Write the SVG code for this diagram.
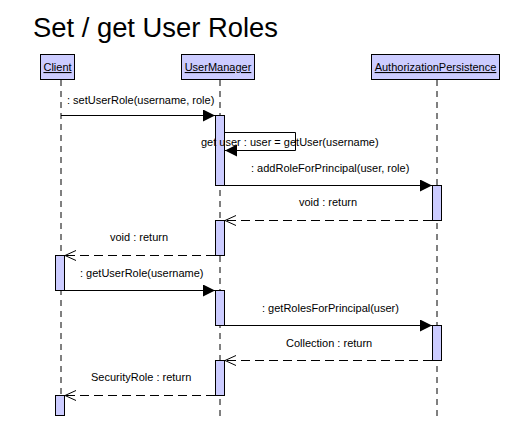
<svg xmlns="http://www.w3.org/2000/svg" width="514" height="426" viewBox="0 0 514 426">
<style>
text{font-family:"Liberation Sans",Arial,sans-serif;font-size:11px;fill:#000}
.title{font-size:27px}
.hdr{fill:#ccccff;stroke:#000;stroke-width:1}
.act{fill:#ccccff;stroke:#000;stroke-width:1}
.life{stroke:#000;stroke-width:1;stroke-dasharray:6,5;fill:none}
.msg{stroke:#000;stroke-width:1;fill:none}
.ret{stroke:#000;stroke-width:1;stroke-dasharray:9,5;fill:none}
.u{text-decoration:underline}
</style>
<defs>
<marker id="fill" markerWidth="12" markerHeight="12" refX="12" refY="6" orient="auto" markerUnits="userSpaceOnUse">
<path d="M0,0 L12,6 L0,12 Z" fill="#000"/>
</marker>
<marker id="open" markerWidth="12" markerHeight="12" refX="11" refY="6" orient="auto" markerUnits="userSpaceOnUse">
<path d="M0,1 L11,6 L0,11" fill="none" stroke="#000" stroke-width="1"/>
</marker>
</defs>
<rect width="514" height="426" fill="#fff"/>
<text class="title" x="33" y="37" textLength="245" lengthAdjust="spacingAndGlyphs">Set / get User Roles</text>

<g id="client">
<rect class="hdr" x="40.5" y="54.5" width="34" height="25"/>
<text class="u" x="57.5" y="71" text-anchor="middle">Client</text>
<line class="life" x1="61" y1="80" x2="61" y2="395"/>
<rect class="act" x="55.5" y="255.5" width="9" height="35"/>
<rect class="act" x="55.5" y="395.5" width="9" height="20"/>
</g>

<g id="usermanager">
<rect class="hdr" x="181.5" y="54.5" width="73" height="25"/>
<text class="u" x="218" y="71" text-anchor="middle">UserManager</text>
<line class="life" x1="220" y1="80" x2="220" y2="416"/>
<rect class="act" x="215.5" y="115.5" width="9" height="70"/>
<rect class="act" x="215.5" y="220.5" width="9" height="35"/>
<rect class="act" x="215.5" y="290.5" width="9" height="35"/>
<rect class="act" x="215.5" y="360.5" width="9" height="35"/>
</g>

<g id="authpersistence">
<rect class="hdr" x="371.5" y="54.5" width="128" height="25"/>
<text class="u" x="435.5" y="71" text-anchor="middle">AuthorizationPersistence</text>
<line class="life" x1="437" y1="80" x2="437" y2="416"/>
<rect class="act" x="432.5" y="185.5" width="9" height="35"/>
<rect class="act" x="432.5" y="325.5" width="9" height="35"/>
</g>

<g id="connectors">
<line class="msg" x1="61" y1="115.5" x2="215" y2="115.5" marker-end="url(#fill)"/>
<text x="67" y="104">: setUserRole(username, role)</text>

<polyline class="msg" points="225,132.5 295.5,132.5 295.5,150.5 225,150.5" marker-end="url(#fill)"/>
<text x="201" y="146">get user : user = getUser(username)</text>

<line class="msg" x1="225" y1="185.5" x2="432" y2="185.5" marker-end="url(#fill)"/>
<text x="251" y="172">: addRoleForPrincipal(user, role)</text>

<line class="ret" x1="432" y1="220.5" x2="225" y2="220.5" marker-end="url(#open)"/>
<text x="328" y="206" text-anchor="middle">void : return</text>

<line class="ret" x1="215" y1="255.5" x2="65" y2="255.5" marker-end="url(#open)"/>
<text x="139" y="241" text-anchor="middle">void : return</text>

<line class="msg" x1="65" y1="290.5" x2="215" y2="290.5" marker-end="url(#fill)"/>
<text x="80" y="277">: getUserRole(username)</text>

<line class="msg" x1="225" y1="325.5" x2="432" y2="325.5" marker-end="url(#fill)"/>
<text x="262" y="312">: getRolesForPrincipal(user)</text>

<line class="ret" x1="432" y1="360.5" x2="225" y2="360.5" marker-end="url(#open)"/>
<text x="286" y="347">Collection : return</text>

<line class="ret" x1="215" y1="395.5" x2="65" y2="395.5" marker-end="url(#open)"/>
<text x="91" y="381">SecurityRole : return</text>
</g>
</svg>
